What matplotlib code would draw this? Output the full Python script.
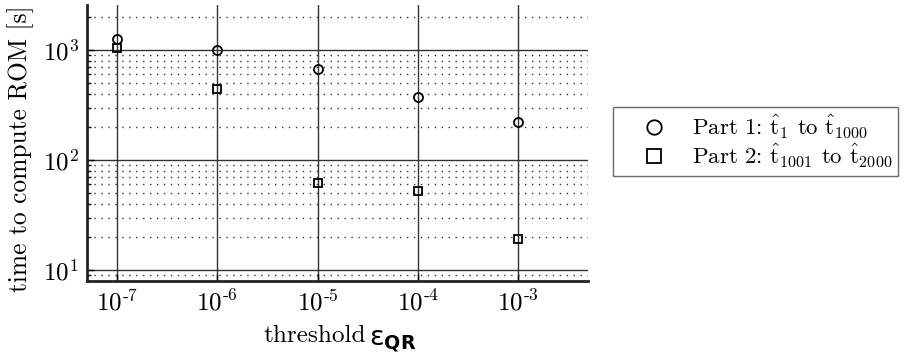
import matplotlib
matplotlib.use("Agg")
import matplotlib.pyplot as plt
from matplotlib.ticker import LogLocator, NullLocator, NullFormatter

plt.rcParams['mathtext.fontset'] = 'cm'
plt.rcParams['font.family'] = ['cmr10', 'DejaVu Serif']
plt.rcParams['axes.formatter.use_mathtext'] = True

thresholds = [1e-7, 1e-6, 1e-5, 1e-4, 1e-3]
part1_time = [1250, 1010, 668, 371, 220]
part2_time = [1036, 442, 62, 52.5, 19]
x_ticklabels = [r'$10^{\text{-}7}$', r'$10^{\text{-}6}$', r'$10^{\text{-}5}$',
                r'$10^{\text{-}4}$', r'$10^{\text{-}3}$']
legend_labels = [r'Part 1: $\hat{\mathrm{t}}_{1}$ to $\hat{\mathrm{t}}_{1000}$',
                 r'Part 2: $\hat{\mathrm{t}}_{1001}$ to $\hat{\mathrm{t}}_{2000}$']

W, H = 914, 355
fig = plt.figure(figsize=(W / 100, H / 100), dpi=100)
ax = fig.add_axes([87 / W, 1 - 281 / H, (588 - 87) / W, (281 - 5) / H])

ax.set_xscale('log')
ax.set_yscale('log')
ax.set_xlim(5e-8, 5e-3)
ax.set_ylim(7.95, 2570)

ax.plot(thresholds, part1_time, linestyle='none', marker='o', markersize=6.5,
        markerfacecolor='none', markeredgecolor='black', markeredgewidth=1.3,
        label=legend_labels[0], zorder=5)
ax.plot(thresholds, part2_time, linestyle='none', marker='s', markersize=6.3,
        markerfacecolor='none', markeredgecolor='black', markeredgewidth=1.3,
        label=legend_labels[1], zorder=5)

ax.set_xticks(thresholds)
ax.set_xticklabels(x_ticklabels)
ax.xaxis.set_minor_locator(NullLocator())
ax.yaxis.set_major_locator(LogLocator(base=10, numticks=10))
ax.yaxis.set_minor_locator(LogLocator(base=10, subs=range(2, 10), numticks=20))
ax.yaxis.set_minor_formatter(NullFormatter())

ax.grid(True, which='major', axis='both', color='#333333', linewidth=1.0, linestyle='-')
ax.grid(True, which='minor', axis='y', color='#333333', linewidth=1.0, linestyle=(0, (1, 4)))
ax.set_axisbelow(True)

for s in ['top', 'right']:
    ax.spines[s].set_visible(False)
for s in ['left', 'bottom']:
    ax.spines[s].set_linewidth(2.0)
    ax.spines[s].set_color('#222222')

ax.tick_params(axis='both', which='major', direction='in', length=5, width=1.0,
               labelsize=18, pad=6)
ax.tick_params(axis='y', which='minor', direction='in', length=3, width=1.0)

ax.set_ylabel('time to compute ROM [s]', fontsize=18.3)
ax.yaxis.set_label_coords(-(87 - 34) / (588 - 87), (281 - 149) / (281 - 5))

fig.text(263 / W, 1 - 342 / H, 'threshold', fontsize=18.2, ha='left', va='baseline')
fig.text(369 / W, 1 - 345 / H, r'$\mathrm{\varepsilon}_{\mathbf{QR}}$', fontsize=19.5,
         ha='left', va='baseline', math_fontfamily='dejavusans')

leg = fig.legend(loc='upper left', bbox_to_anchor=(613 / W, 1 - 107 / H),
                 fontsize=16.5, frameon=True, fancybox=False, edgecolor='#444444',
                 handletextpad=0.1, borderpad=0.25, labelspacing=0.05,
                 handlelength=3.1, borderaxespad=0, markerscale=1.6)
leg.get_frame().set_linewidth(1.0)

fig.savefig('out.png', dpi=100)
